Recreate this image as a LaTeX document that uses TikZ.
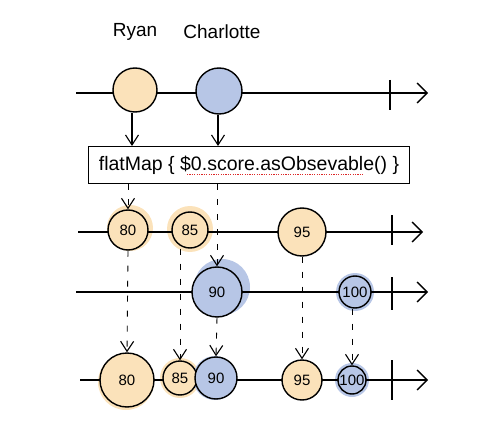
\documentclass[tikz,border=0pt]{standalone}
\usepackage{fontspec}
\setmainfont{Liberation Sans}
\usetikzlibrary{arrows.meta}
\definecolor{ryanC}{RGB}{251,226,186}
\definecolor{charC}{RGB}{183,198,230}
\definecolor{squig}{RGB}{220,40,40}
\tikzset{
  timeline/.style={line width=1.2pt, -{Straight Barb[length=10pt,width=20pt,line width=1.3pt]}},
  tickmark/.style={line width=1.3pt},
  ball/.style={circle, draw, line width=1.4pt, inner sep=0pt, font=\fontsize{15}{15}\selectfont},
  ryanball/.style={ball, fill=ryanC},
  charball/.style={ball, fill=charC},
  downarrow/.style={line width=1.1pt, -{Straight Barb[length=10pt,width=13pt,line width=1.1pt]}},
  dashline/.style={line width=0.9pt, dash pattern=on 6pt off 9pt, -{Straight Barb[length=10pt,width=13pt,line width=1.1pt]}},
  label/.style={font=\fontsize{19}{21}\selectfont},
}
\begin{document}
\begin{tikzpicture}[x=1pt,y=-1pt]
\useasboundingbox (0,0) rectangle (501,436);
% halos
\fill[ryanC] (130,228) circle (23);
\fill[ryanC] (190,229) circle (23);
\fill[ryanC] (302,232) circle (24);
\fill[charC] (222,287) circle (28);
\fill[charC] (355,292) circle (19);
\fill[ryanC] (126,382) circle (28);
\fill[ryanC] (180,378) circle (20);
\fill[charC] (215,378) circle (22);
\fill[ryanC] (302,380) circle (20);
\fill[charC] (352,380) circle (17);

% labels
\node[label] (lryan) at (135,32) {Ryan};
\node[label] (lchar) at (222,32) {Charlotte};

% timelines
\coordinate (a1) at (76,93);  \coordinate (b1) at (428,93);
\coordinate (a2) at (78,232); \coordinate (b2) at (423,232);
\coordinate (a3) at (76,292); \coordinate (b3) at (428,292);
\coordinate (a4) at (80,380); \coordinate (b4) at (428,380);
\draw[timeline] (a1) -- (b1);
\draw[timeline] (a2) -- (b2);
\draw[timeline] (a3) -- (b3);
\draw[timeline] (a4) -- (b4);
\draw[tickmark] (390,80) -- (390,110);
\draw[tickmark] (392,215) -- (392,245);
\draw[tickmark] (392,277) -- (392,310);
\draw[tickmark] (392,360) -- (392,400);

% row 1
\node[ryanball, minimum size=44pt] (ryan) at (135,90) {};
\node[charball, minimum size=46pt] (char) at (219,91) {};

% flatMap box
\node[draw, line width=1.1pt, minimum width=321pt, minimum height=37pt, inner sep=0pt,
      font=\fontsize{19.5}{22}\selectfont] (box) at (249,165) {flatMap \{ \$0.score.asObsevable() \}};
\draw[squig, line width=1pt, dash pattern=on 1.2pt off 1.2pt] (187,174) -- (363,174);

\draw[downarrow] (ryan.south -| 132,0) -- (box.north -| 132,0);
\draw[downarrow] (char.south -| 218,0) -- (box.north -| 218,0);

% row 2
\node[ryanball, minimum size=40pt] (s80) at (128,230) {80};
\node[ryanball, minimum size=36pt] (s85) at (190,230) {85};
\node[ryanball, minimum size=48pt] (s95) at (302,232) {95};

% row 3
\node[charball, minimum size=50pt] (s90) at (217,292) {90};
\node[charball, minimum size=32pt] (s100) at (355,292) {100};

% row 4
\node[ryanball, minimum size=54pt] (m80) at (127,380) {80};
\node[ryanball, minimum size=34pt] (m85) at (180,378) {85};
\node[charball, minimum size=42pt] (m90) at (216,378) {90};
\node[ryanball, minimum size=40pt] (m95) at (302,380) {95};
\node[charball, minimum size=28pt] (m100) at (352,380) {100};

% dashed connectors
\draw[dashline] (box.south -| s80.north) -- (s80.north);
\draw[dashline] (box.south -| s90.north) -- (s90.north);
\draw[dashline] (s80.south) -- (m80.north);
\draw[dashline] (s85.south -| m85.north) -- (m85.north);
\draw[dashline] (s90.south) -- (m90.north);
\draw[dashline] (s95.south) -- (m95.north);
\draw[dashline] (s100.south -| m100.north) -- (m100.north);
\end{tikzpicture}
\end{document}
